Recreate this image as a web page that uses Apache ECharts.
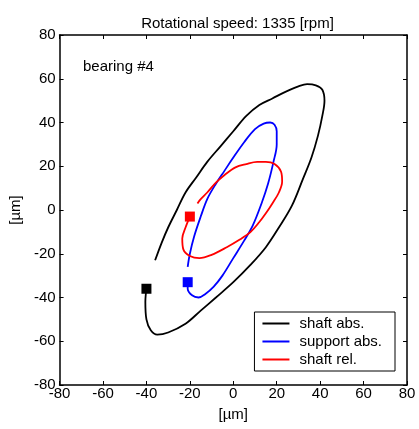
<!DOCTYPE html>
<html>
<head>
<meta charset="utf-8">
<script src="https://cdn.jsdelivr.net/npm/echarts@6/dist/echarts.min.js"></script>
<style>
  html, body { margin: 0; padding: 0; background: #fff; }
  #chart { width: 419px; height: 429px; }
</style>
</head>
<body>
<div id="chart"></div>
<script>
// orbit points [x, y] in µm
var shaftAbs = [
  [-40, -36], [-40.5, -42], [-40, -50], [-38, -55], [-35, -57], [-30, -56],
  [-22, -52], [-15, -46], [-8, -40], [0, -33], [8, -25], [15, -17],
  [21, -8], [27, 2], [32, 14], [36, 24], [39, 34], [41, 43], [42, 50],
  [41, 55], [38, 57], [34, 57.5], [30, 56.5], [24, 54], [18, 51], [12, 48],
  [6, 43], [0, 36], [-6, 29], [-12, 22], [-17, 15], [-22, 8], [-26, 0],
  [-30, -8], [-33, -15], [-36, -23]
];
var supportAbs = [
  [-21, -33], [-21, -36], [-19, -39], [-16, -40], [-13, -38.5], [-9, -35],
  [-5, -30], [0, -22], [5, -14], [9, -7], [13, 3], [16, 12], [18.5, 22],
  [20, 30], [20, 36], [19, 39], [17, 40], [14, 39.5], [10, 37], [5, 31],
  [0, 24], [-4, 18], [-8, 12], [-12, 5], [-15, -3], [-18, -12], [-20, -20],
  [-21, -26]
];
var shaftRel = [
  [-20, -3], [-22, -8], [-23.5, -13], [-23, -18], [-20, -21], [-15.6, -22],
  [-10, -20.5], [-3, -17], [3, -13.5], [8, -10], [12, -5.5], [15, -1.5],
  [18, 3], [21, 8], [22.5, 13], [22, 17.5], [19, 21], [15, 22], [11, 22],
  [6, 21], [1, 19.5], [-4, 16], [-8, 12.5], [-12, 8], [-15, 5], [-16.5, 3]
];
var seriesNames = ['shaft abs.', 'support abs.', 'shaft rel.'];
var seriesColors = ['#000000', '#0000ff', '#ff0000'];
var axisTicks = [-80, -60, -40, -20, 0, 20, 40, 60, 80];

var font = 'Liberation Sans, Arial, sans-serif';
var chart = echarts.init(document.getElementById('chart'));

function axis(pos, showLabel, name) {
  return {
    type: 'value',
    position: pos,
    min: axisTicks[0],
    max: axisTicks[axisTicks.length - 1],
    interval: 20,
    name: name || '',
    nameLocation: 'middle',
    nameGap: pos === 'left' ? 27 : 22,
    nameRotate: pos === 'left' ? 90 : 0,
    nameTextStyle: { color: '#000', fontFamily: font, fontSize: 15 },
    splitLine: { show: false },
    axisLine: { show: true, onZero: false, lineStyle: { color: '#000', width: 1.5 } },
    axisTick: { show: true, inside: true, length: 4, lineStyle: { color: '#000' } },
    axisLabel: {
      show: showLabel, color: '#000', fontFamily: font, fontSize: 15,
      margin: pos === 'bottom' ? 1 : 4
    }
  };
}

var data = [shaftAbs, supportAbs, shaftRel];
var series = [];
data.forEach(function (d, i) {
  series.push({
    name: seriesNames[i],
    type: 'line',
    data: d,
    smooth: 0.35,
    showSymbol: false,
    symbol: 'none',
    lineStyle: { color: seriesColors[i], width: 1.8 },
    itemStyle: { color: seriesColors[i] },
    animation: false
  });
});
data.forEach(function (d, i) {
  series.push({
    type: 'scatter',
    data: [d[0]],
    symbol: 'rect',
    symbolSize: 10,
    itemStyle: { color: seriesColors[i], opacity: 1 },
    z: 5,
    animation: false
  });
});

chart.setOption({
  title: {
    text: 'Rotational speed: 1335 [rpm]',
    left: 232.5,
    top: 11,
    textAlign: 'center',
    textStyle: { color: '#000', fontFamily: font, fontSize: 15, fontWeight: 'normal' }
  },
  grid: { left: 58, right: 12, top: 35, bottom: 44, containLabel: false },
  xAxis: [axis('bottom', true, '[µm]'), axis('top', false)],
  yAxis: [axis('left', true, '[µm]'), axis('right', false)],
  legend: {
    data: seriesNames.map(function (n, i) {
      return { name: n, icon: 'rect', itemStyle: { color: seriesColors[i] } };
    }),
    orient: 'vertical',
    right: 24,
    top: 312,
    itemWidth: 27,
    itemHeight: 2,
    itemGap: 3,
    padding: [4, 13, 4, 8],
    backgroundColor: '#fff',
    borderColor: '#000',
    borderWidth: 1,
    borderRadius: 0,
    textStyle: { color: '#000', fontFamily: font, fontSize: 15, padding: [0, 0, 0, 5] }
  },
  graphic: [{
    type: 'text',
    left: 83,
    top: 59,
    style: { text: 'bearing #4', fill: '#000', font: '15px ' + font }
  }],
  series: series
});
</script>
</body>
</html>
